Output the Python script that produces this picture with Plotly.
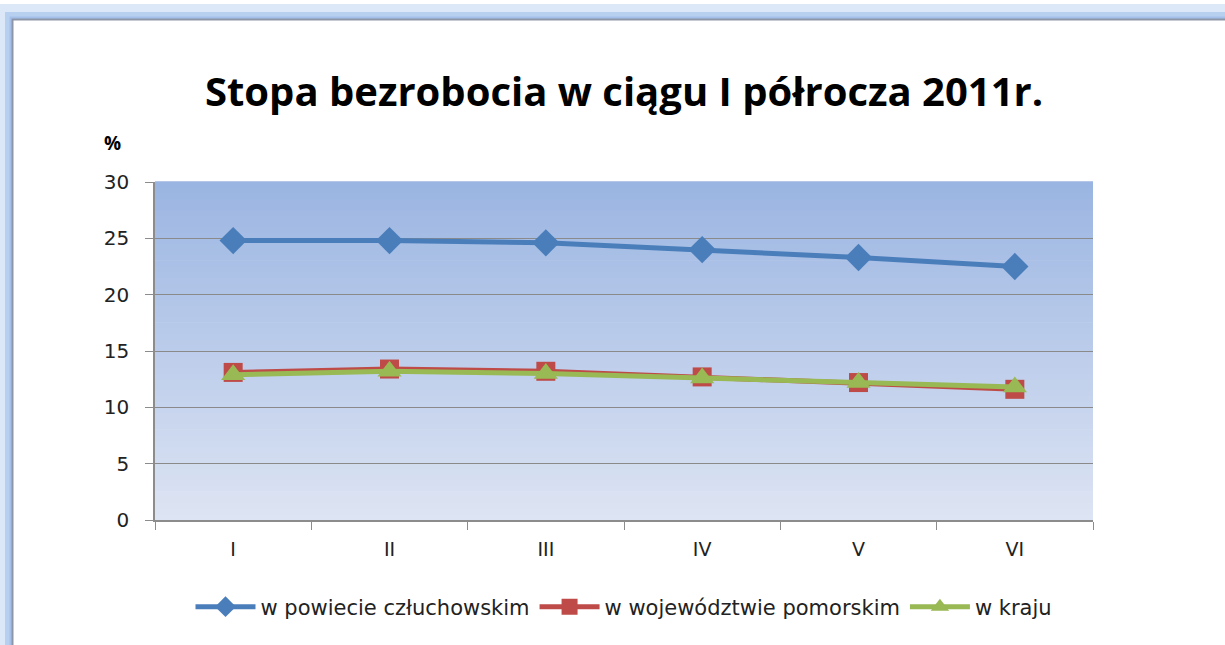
import plotly.graph_objects as go

months = ["I", "II", "III", "IV", "V", "VI"]
powiat = [24.8, 24.8, 24.6, 24.0, 23.3, 22.5]
wojewodztwo = [13.1, 13.4, 13.2, 12.7, 12.2, 11.6]
kraj = [12.9, 13.2, 13.0, 12.6, 12.2, 11.8]
series_names = ["w powiecie człuchowskim", "w województwie pomorskim", "w kraju"]
y_ticks = [0, 5, 10, 15, 20, 25, 30]

TITLE_FONT = "Open Sans"
FONT = "DejaVu Sans"

L, R, T, B = 155, 1093, 182, 520
PW, PH = R - L, B - T


def px(x):
    return (x - L) / PW


def py(y):
    return (B - y) / PH


fig = go.Figure()
fig.add_trace(go.Scatter(x=months, y=powiat, name=series_names[0], mode="lines+markers",
                         line=dict(color="#4A7EBB", width=5),
                         marker=dict(symbol="diamond", size=21, color="#4A7EBB")))
fig.add_trace(go.Scatter(x=months, y=wojewodztwo, name=series_names[1], mode="lines+markers",
                         line=dict(color="#BE4B48", width=5),
                         marker=dict(symbol="square", size=19, color="#BE4B48")))
fig.add_trace(go.Scatter(x=months, y=kraj, name=series_names[2], mode="lines+markers",
                         line=dict(color="#98B954", width=5),
                         marker=dict(symbol="triangle-up", size=21, color="#98B954")))

shapes = []
# outer frame glow + border
for off, w, col in [(4, 14, "#DCE8F8"), (8.5, 7, "#B8D0F0"), (11, 3, "#A4C0EA"), (12.5, 2, "#8C96A8")]:
    shapes.append(dict(type="rect", xref="paper", yref="paper",
                       x0=px(off), x1=px(1400), y0=py(800), y1=py(off + 7),
                       line=dict(color=col, width=w), fillcolor="rgba(0,0,0,0)", layer="below"))
# gradient plot background
n = 60
top = (155, 181, 226)
bot = (221, 228, 243)
for i in range(n):
    t = i / (n - 1)
    c = tuple(round(bot[k] + (top[k] - bot[k]) * t) for k in range(3))
    shapes.append(dict(type="rect", xref="x domain", yref="y domain",
                       x0=0, x1=1, y0=i / n, y1=(i + 1) / n + 0.002,
                       fillcolor="rgb(%d,%d,%d)" % c, line=dict(width=0), layer="below"))

fig.update_layout(
    width=1225, height=645,
    margin=dict(l=L, r=1225 - R, t=T, b=645 - B),
    paper_bgcolor="white",
    plot_bgcolor="rgba(0,0,0,0)",
    shapes=shapes,
    title=dict(text="<b>Stopa bezrobocia w ciągu I półrocza 2011r.</b>",
               x=0.5, xanchor="center", xref="paper", y=1 - 92 / 645, yanchor="middle", yref="container",
               font=dict(family=TITLE_FONT, size=40, color="black")),
    font=dict(family=FONT, size=19, color="#222222"),
    showlegend=True,
    legend=dict(orientation="h", x=0.5, xanchor="center", y=py(607), yanchor="middle",
                font=dict(family=FONT, size=21, color="#222222"), itemwidth=60,
                bgcolor="rgba(0,0,0,0)"),
    xaxis=dict(type="category", range=[-0.5, 5.5], showgrid=False, showline=True,
               linecolor="#8C8C8C", linewidth=1.5,
               ticks="outside", tickson="boundaries", ticklen=8, tickcolor="#8C8C8C",
               ticklabelstandoff=11,
               tickfont=dict(family=FONT, size=19, color="#222222"), zeroline=False),
    yaxis=dict(range=[0, 30], tickvals=y_ticks, showgrid=True, gridcolor="#8A8A8A", gridwidth=1.3,
               showline=True, linecolor="#8C8C8C", linewidth=1.5, ticks="outside", ticklen=8,
               tickcolor="#8C8C8C", ticklabelstandoff=12,
               tickfont=dict(family=FONT, size=20, color="#222222"), zeroline=False),
    annotations=[dict(text="<b>%</b>", xref="paper", yref="paper", x=px(112), y=py(143),
                      xanchor="center", yanchor="middle", showarrow=False,
                      font=dict(family=TITLE_FONT, size=19, color="black"))],
)

fig.write_html("out.html", config={"displayModeBar": False},
               post_script="document.body.style.margin='0';document.body.style.overflow='hidden';")
